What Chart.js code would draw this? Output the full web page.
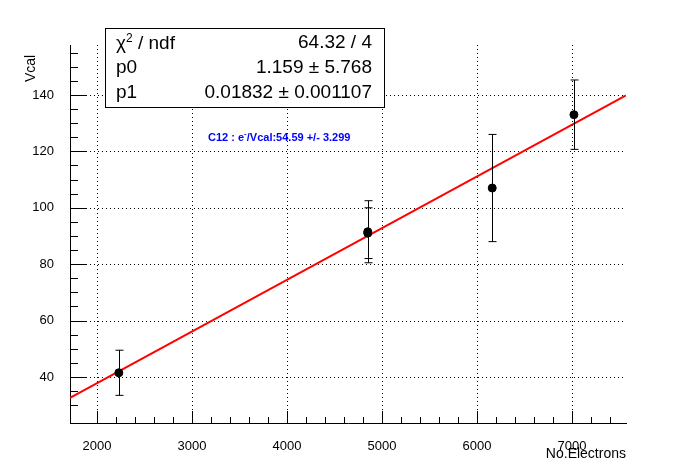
<!DOCTYPE html><html><head><script src="https://cdn.jsdelivr.net/npm/chart.js"></script>
<style>body{margin:0;background:#fff}#w{position:relative;width:696px;height:474px}
#box{position:absolute;left:105px;top:28px;width:278px;height:78px;border:1px solid #000;background:#fff;font-family:'Liberation Sans',Arial;font-size:19px}
#box div{position:absolute;height:24px}
.l{left:10px}.r{right:12px}
#lab{position:absolute;left:208px;top:129px;color:#0000ff;font:bold 11px 'Liberation Sans',Arial}
#yt{position:absolute;left:22px;transform:rotate(-90deg);transform-origin:left top;font:14px 'Liberation Sans',Arial;top:82px}
#xt{position:absolute;right:70px;top:445px;font:14px 'Liberation Sans',Arial}
</style></head><body><div id="w"><canvas id="c" width="696" height="474"></canvas>
<div id="box"><div class="l" style="top:2px">χ<sup style="font-size:12px">2</sup> / ndf</div><div class="r" style="top:2px">64.32 / 4</div>
<div class="l" style="top:27px">p0</div><div class="r" style="top:27px">1.159 ± 5.768</div>
<div class="l" style="top:52px">p1</div><div class="r" style="top:52px">0.01832 ± 0.001107</div></div>
<div id="lab">C12 : e<sup style="font-size:8px">-</sup>/Vcal:54.59 +/- 3.299</div>
<div id="yt">Vcal</div><div id="xt">No.Electrons</div></div>
<script>
const xs=[2230,4850,4850,6160,7020];
const ys=[41.5,91.5,91,107,133];
const errs=[8,11,9,19,12.3];
const p0=1.159,p1=0.01832;
const xMin=1716,xMax=7568,yMin=23.7,yMax=157.7;
const xTicks=[2000,3000,4000,5000,6000,7000];
const yTicks=[40,60,80,100,120,140];
const fitX=[xMin,xMax];
const gridPlug={id:'g',beforeDatasetsDraw(ch){const c=ch.ctx,x=ch.scales.x,y=ch.scales.y,a=ch.chartArea;c.save();c.strokeStyle='#000';c.lineWidth=1;c.setLineDash([1,3]);c.beginPath();
xTicks.forEach(v=>{const px=Math.round(x.getPixelForValue(v))+0.5;c.moveTo(px,a.top);c.lineTo(px,a.bottom);});
yTicks.forEach(v=>{const py=Math.round(y.getPixelForValue(v))+0.5;c.moveTo(a.left,py);c.lineTo(a.right,py);});
c.stroke();c.restore();}};
const errPlug={id:'e',afterDatasetsDraw(ch){const c=ch.ctx,x=ch.scales.x,y=ch.scales.y;c.save();c.strokeStyle='#000';c.lineWidth=1;
xs.forEach((v,i)=>{const px=Math.round(x.getPixelForValue(v))+0.5,t=y.getPixelForValue(ys[i]+errs[i]),b=y.getPixelForValue(ys[i]-errs[i]);c.beginPath();c.moveTo(px,t);c.lineTo(px,b);c.moveTo(px-4,t);c.lineTo(px+4,t);c.moveTo(px-4,b);c.lineTo(px+4,b);c.stroke();});
const a=ch.chartArea;c.beginPath();
for(let v=2000;v<=7500;v+=200){const px=Math.round(x.getPixelForValue(v))+0.5;const L=v%1000==0?12:6;c.moveTo(px,a.bottom);c.lineTo(px,a.bottom-L);}
for(let v=30;v<=155;v+=5){const py=Math.round(y.getPixelForValue(v))+0.5;const L=v%20==0?16:8;c.moveTo(a.left,py);c.lineTo(a.left+L,py);}
c.stroke();c.restore();}};
new Chart(document.getElementById('c'),{type:'scatter',data:{datasets:[
{data:xs.map((v,i)=>({x:v,y:ys[i]})),backgroundColor:'#000',borderColor:'#000',pointRadius:4,order:0},
{type:'line',data:fitX.map(v=>({x:v,y:p0+p1*v})),borderColor:'#ff0000',borderWidth:2,pointRadius:0,order:1}]},
options:{responsive:false,animation:false,layout:{padding:{top:45,right:70}},plugins:{legend:{display:false},tooltip:{enabled:false}},
scales:{x:{type:'linear',min:xMin,max:xMax,afterFit(s){s.height=51},afterBuildTicks(s){s.ticks=xTicks.map(v=>({value:v}))},
grid:{display:false},border:{color:'#000'},ticks:{color:'#000',font:{family:'Liberation Sans',size:13},padding:8,callback:v=>String(v)}},
y:{min:yMin,max:yMax,afterFit(s){s.width=70},afterBuildTicks(s){s.ticks=yTicks.map(v=>({value:v}))},
grid:{display:false},border:{color:'#000'},ticks:{color:'#000',font:{family:'Liberation Sans',size:13},padding:8}}}},
plugins:[gridPlug,errPlug]});
</script></body></html>
